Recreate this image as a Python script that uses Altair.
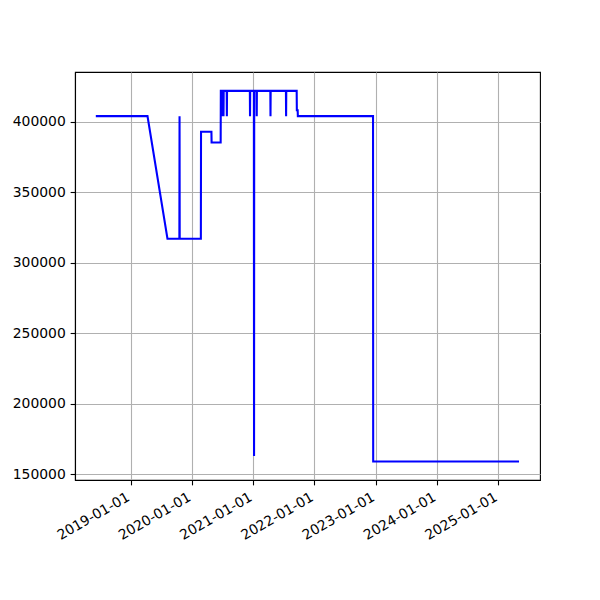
import altair as alt
import pandas as pd

dates = [
    "2018-06-08", "2019-04-12", "2019-08-09", "2019-10-19", "2019-10-20", "2019-10-21",
    "2020-02-24", "2020-02-25", "2020-04-27", "2020-04-28", "2020-06-21", "2020-06-22",
    "2020-06-27", "2020-06-28", "2020-06-29", "2020-07-07", "2020-07-08", "2020-07-09",
    "2020-07-27", "2020-07-28", "2020-07-29", "2020-12-12", "2020-12-13", "2020-12-14",
    "2021-01-05", "2021-01-06", "2021-01-07", "2021-01-21", "2021-01-22", "2021-01-23",
    "2021-04-13", "2021-04-14", "2021-04-15", "2021-07-15", "2021-07-16", "2021-07-17",
    "2021-09-17", "2021-09-18", "2021-09-23", "2021-09-24", "2022-12-16", "2022-12-17",
    "2025-05-04",
]
values = [
    403800, 403800, 316900, 316900, 403800, 316900,
    316900, 392700, 392700, 385100, 385100, 421700,
    421700, 403800, 421700, 421700, 403800, 421700,
    421700, 403800, 421700, 421700, 403800, 421700,
    421700, 163000, 421700, 421700, 403800, 421700,
    421700, 403800, 421700, 421700, 403800, 421700,
    421700, 408000, 408000, 403800, 403800, 159000,
    159000,
]
tick_years = [2019, 2020, 2021, 2022, 2023, 2024, 2025]
y_ticks = [150000, 200000, 250000, 300000, 350000, 400000]

df = pd.DataFrame({"date": dates, "value": values, "order": list(range(len(dates)))})

font = "DejaVu Sans"
fs = 13.9

chart = alt.Chart(df).mark_line(color="#0000ff", strokeWidth=2.08).encode(
    x=alt.X(
        "date:T",
        scale=alt.Scale(
            type="utc",
            domain=[alt.DateTime(year=2018, month=2, date=4, utc=True),
                    alt.DateTime(year=2025, month=9, date=6, utc=True)],
            nice=False,
        ),
        axis=alt.Axis(
            title=None,
            values=[alt.DateTime(year=y, month=1, date=1, utc=True) for y in tick_years],
            labelExpr="utcFormat(datum.value, '%Y-%m-%d')",
            labelAngle=-30,
            labelAlign="right",
            labelBaseline="top",
            labelPadding=5,
            labelOffset=-6,
            labelOverlap=False,
            labelBound=False,
            labelFlush=False,
            tickSize=4.86,
            labelFont=font,
            labelFontSize=fs,
            labelColor="black",
            grid=True,
        ),
    ),
    y=alt.Y(
        "value:Q",
        scale=alt.Scale(domain=[145900, 435100], nice=False, zero=False),
        axis=alt.Axis(
            title=None,
            values=y_ticks,
            format="d",
            tickSize=4.86,
            labelPadding=4.86,
            labelOverlap=False,
            labelFont=font,
            labelFontSize=fs,
            labelColor="black",
            grid=True,
        ),
    ),
    order="order:Q",
).properties(
    width=465,
    height=408,
    autosize=alt.AutoSizeParams(type="none"),
    padding={"left": 67, "top": 64, "right": 52, "bottom": 112},
).configure_axis(
    domainColor="black",
    domainWidth=1.1,
    tickColor="black",
    tickWidth=1.1,
    gridColor="#b0b0b0",
    gridWidth=1.1,
).configure_view(
    stroke="black",
    strokeWidth=1.1,
)

chart.save("out.html", embed_options={"renderer": "svg", "actions": False})
